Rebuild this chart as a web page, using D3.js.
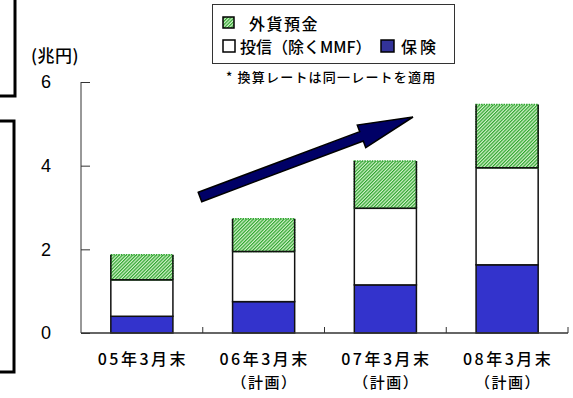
<!DOCTYPE html>
<html>
<head>
<meta charset="utf-8">
<script src="https://cdn.jsdelivr.net/npm/d3@7"></script>
<style>
  body { margin: 0; background: #fff; }
  text { font-family: "Liberation Sans", Arial, "Noto Sans CJK JP", sans-serif; fill: #000; }
  .jp { font-family: "Noto Sans CJK JP", sans-serif; font-weight: 500; }
</style>
</head>
<body>
<div id="chart"></div>
<script>
// data (兆円)
let categories = ["05年3月末", "06年3月末", "07年3月末", "08年3月末"];
let subLabels = ["", "（計画）", "（計画）", "（計画）"];
let hoken = [0.4, 0.75, 1.15, 1.63];     // 保険
let toushin = [0.87, 1.2, 1.83, 2.32];   // 投信（除くMMF）
let gaika = [0.6, 0.78, 1.13, 1.51];     // 外貨預金
let yTicks = [0, 2, 4, 6];

const W = 573, H = 398;
const svg = d3.select("#chart").append("svg")
  .attr("width", W)
  .attr("height", H);

const defs = svg.append("defs");
const pat = defs.append("pattern")
  .attr("id", "hatch")
  .attr("patternUnits", "userSpaceOnUse")
  .attr("width", 2.4)
  .attr("height", 2.4)
  .attr("patternTransform", "rotate(45)");
pat.append("rect").attr("width", 2.4).attr("height", 2.4).attr("fill", "#d4f2cc");
pat.append("rect").attr("width", 1.2).attr("height", 2.4).attr("fill", "#2ea52e");

// left frames (cut off by the page edge)
svg.append("rect")
  .attr("x", -40).attr("y", -10).attr("width", 55).attr("height", 106)
  .attr("fill", "none").attr("stroke", "#000").attr("stroke-width", 3);
svg.append("rect")
  .attr("x", -40).attr("y", 121).attr("width", 54).attr("height", 251)
  .attr("fill", "none").attr("stroke", "#000").attr("stroke-width", 3);

const x = d3.scaleBand().domain(categories).range([81, 568]).padding(0);
const y = d3.scaleLinear().domain([0, 6]).range([333, 82]);
const barW = x.bandwidth() * 0.51;

// y axis
const yAxis = svg.append("g")
  .attr("transform", "translate(81,0)")
  .call(d3.axisLeft(y).tickValues(yTicks).tickSize(-9).tickPadding(30).tickFormat(d3.format("d")));
yAxis.select(".domain").attr("stroke", "#333").attr("d", "M0,82V333");
yAxis.selectAll(".tick line").attr("stroke", "#333");
yAxis.selectAll(".tick text")
  .attr("font-size", 18)
  .attr("font-family", "'Liberation Sans', Arial, sans-serif")
  .attr("fill", "#000");

svg.append("text")
  .attr("class", "jp")
  .attr("x", 31).attr("y", 62)
  .attr("font-size", 17)
  .attr("letter-spacing", 0.5)
  .text("(兆円)");

// stacked bars
const series = [
  {key: "保険", vals: hoken, fill: "#3333cc"},
  {key: "投信", vals: toushin, fill: "#fff"},
  {key: "外貨", vals: gaika, fill: "url(#hatch)"}
];
categories.forEach((c, i) => {
  let base = 0;
  let bx = x(c) + (x.bandwidth() - barW) / 2;
  series.forEach((s) => {
    let v = s.vals[i];
    let r = svg.append("rect")
      .attr("x", bx)
      .attr("y", y(base + v))
      .attr("width", barW)
      .attr("height", y(base) - y(base + v))
      .attr("fill", s.fill);
    if (s.key === "外貨") {
      // hatched top: dotted green edge, dark sides
      r.attr("stroke", "#2ea52e").attr("stroke-width", 1.5).attr("stroke-dasharray", "1.5,1");
      svg.append("path")
        .attr("d", `M${bx},${y(base)}V${y(base + v)}M${bx + barW},${y(base)}V${y(base + v)}M${bx},${y(base)}H${bx + barW}`)
        .attr("stroke", "#111").attr("stroke-width", 1.5).attr("fill", "none");
    } else {
      r.attr("stroke", "#111").attr("stroke-width", 1.5);
    }
    base += v;
  });
});

// x axis
const xg = svg.append("g");
xg.append("line")
  .attr("x1", 81).attr("x2", 568).attr("y1", 333).attr("y2", 333)
  .attr("stroke", "#333").attr("stroke-width", 1.5);
categories.forEach((c) => {
  let bx = x(c) + x.bandwidth();
  xg.append("line")
    .attr("x1", bx).attr("x2", bx).attr("y1", 333).attr("y2", 327)
    .attr("stroke", "#333");
});
xg.selectAll("text.cat").data(categories).join("text")
  .attr("class", "cat jp")
  .attr("x", (d) => x(d) + x.bandwidth() / 2 + 1)
  .attr("y", 365)
  .attr("text-anchor", "middle")
  .attr("font-size", 16)
  .attr("letter-spacing", 2.5)
  .text((d) => d);
xg.selectAll("text.sub").data(categories).join("text")
  .attr("class", "sub jp")
  .attr("x", (d) => x(d) + x.bandwidth() / 2 + 1)
  .attr("y", 388)
  .attr("text-anchor", "middle")
  .attr("font-size", 15)
  .attr("letter-spacing", 1.5)
  .text((d, i) => subLabels[i]);

// trend arrow
const tail = [200, 197], tip = [413, 117];
const len = Math.hypot(tip[0] - tail[0], tip[1] - tail[1]);
const ang = Math.atan2(tip[1] - tail[1], tip[0] - tail[0]) * 180 / Math.PI;
const hw = 5, headL = 55, headW = 12;
const pts = [[0, -hw], [len - headL, -hw], [len - headL, -headW], [len, 0],
             [len - headL, headW], [len - headL, hw], [0, hw]];
svg.append("path")
  .attr("d", d3.line()(pts) + "Z")
  .attr("transform", `translate(${tail[0]},${tail[1]}) rotate(${ang})`)
  .attr("fill", "#000066")
  .attr("stroke", "#000")
  .attr("stroke-width", 1.5)
  .attr("stroke-linejoin", "miter");

// legend
const lg = svg.append("g");
lg.append("rect")
  .attr("x", 212.5).attr("y", 4.5).attr("width", 242).attr("height", 59)
  .attr("fill", "#fff").attr("stroke", "#333").attr("stroke-width", 1);
lg.append("rect")
  .attr("x", 223).attr("y", 17).attr("width", 11).attr("height", 11)
  .attr("fill", "url(#hatch)").attr("stroke", "#000").attr("stroke-width", 1.5);
lg.append("text").attr("class", "jp")
  .attr("x", 249).attr("y", 30).attr("font-size", 16).attr("letter-spacing", 1.5).text("外貨預金");
lg.append("rect")
  .attr("x", 223).attr("y", 40).attr("width", 12).attr("height", 12)
  .attr("fill", "#fff").attr("stroke", "#000").attr("stroke-width", 1.5);
lg.append("text").attr("class", "jp")
  .attr("x", 240).attr("y", 53).attr("font-size", 16).text("投信（除くMMF）");
lg.append("rect")
  .attr("x", 381).attr("y", 40).attr("width", 13).attr("height", 12)
  .attr("fill", "#333399").attr("stroke", "#000").attr("stroke-width", 1.5);
lg.append("text").attr("class", "jp")
  .attr("x", 401).attr("y", 53).attr("font-size", 16).attr("letter-spacing", 3).text("保険");

svg.append("text").attr("class", "jp")
  .attr("x", 226).attr("y", 82).attr("font-size", 13).attr("letter-spacing", 1.2)
  .text("* 換算レートは同一レートを適用");
</script>
</body>
</html>
